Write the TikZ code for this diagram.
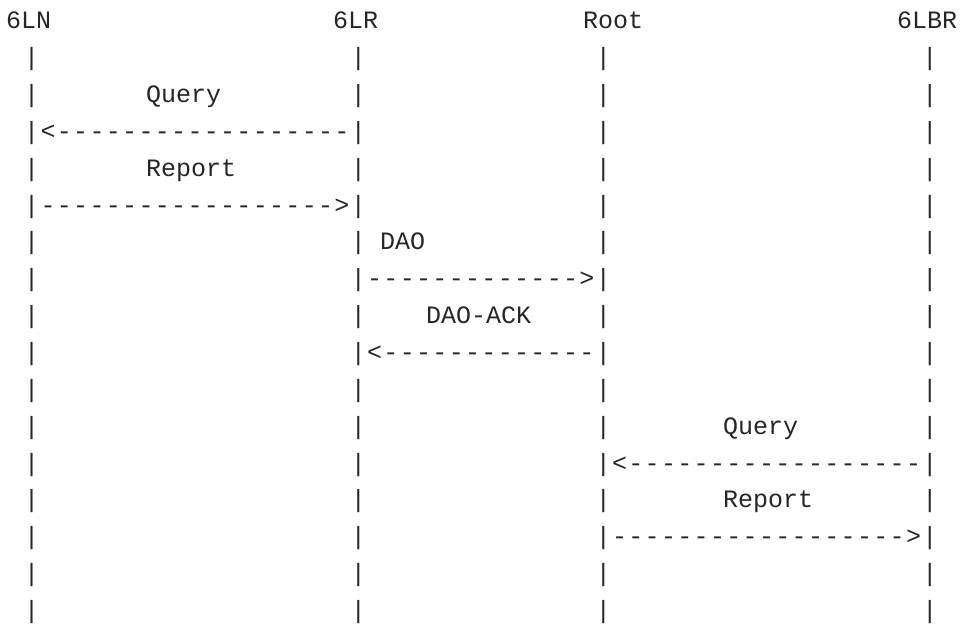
\documentclass[tikz,border=0pt]{standalone}
\usepackage{fontspec}
\newfontfamily\artfont{Liberation Mono}
\definecolor{ink}{HTML}{262626}
\newcommand\colx[1]{15.37+16.33*#1}
\newcommand\rowy[1]{-28.8-36.85*#1}
\begin{document}
\begin{tikzpicture}[x=1pt,y=1pt,
  ch/.style={inner sep=0pt, anchor=base, font=\artfont\fontsize{25}{30}\selectfont, text=ink},
  word/.style={ch, anchor=base west}]
\useasboundingbox (0,0) rectangle (963,-625);
% header labels
\node[word] (n6ln)  at (6,{\rowy{0}}) {6LN};
\node[word] (n6lr)  at (333,{\rowy{0}}) {6LR};
\node[word] (nroot) at (583,{\rowy{0}}) {Root};
\node[word] (n6lbr) at (897,{\rowy{0}}) {6LBR};
% lifelines
\foreach \r in {1,...,16}
  \foreach \c in {1,21,36,56}
    \node[ch] (p-\r-\c) at ({\colx{\c}},{\rowy{\r}}) {|};
% messages
\node[word] (q1) at (146,{\rowy{2}}) {Query};
\node[ch] (h3) at ({\colx{2}},{\rowy{3}}) {<};
\foreach \c in {3,...,20} \node[ch] (d-3-\c) at ({\colx{\c}},{\rowy{3}}) {-};
\node[word] (r1) at (146,{\rowy{4}}) {Report};
\foreach \c in {2,...,19} \node[ch] (d-5-\c) at ({\colx{\c}},{\rowy{5}}) {-};
\node[ch] (h5) at ({\colx{20}},{\rowy{5}}) {>};
\node[word] (dao) at (380,{\rowy{6}}) {DAO};
\foreach \c in {22,...,34} \node[ch] (d-7-\c) at ({\colx{\c}},{\rowy{7}}) {-};
\node[ch] (h7) at ({\colx{35}},{\rowy{7}}) {>};
\node[word] (daoack) at (426,{\rowy{8}}) {DAO-ACK};
\node[ch] (h9) at ({\colx{22}},{\rowy{9}}) {<};
\foreach \c in {23,...,35} \node[ch] (d-9-\c) at ({\colx{\c}},{\rowy{9}}) {-};
\node[word] (q2) at (723,{\rowy{11}}) {Query};
\node[ch] (h12) at ({\colx{37}},{\rowy{12}}) {<};
\foreach \c in {38,...,55} \node[ch] (d-12-\c) at ({\colx{\c}},{\rowy{12}}) {-};
\node[word] (r2) at (723,{\rowy{13}}) {Report};
\foreach \c in {37,...,54} \node[ch] (d-14-\c) at ({\colx{\c}},{\rowy{14}}) {-};
\node[ch] (h14) at ({\colx{55}},{\rowy{14}}) {>};
\end{tikzpicture}
\end{document}
